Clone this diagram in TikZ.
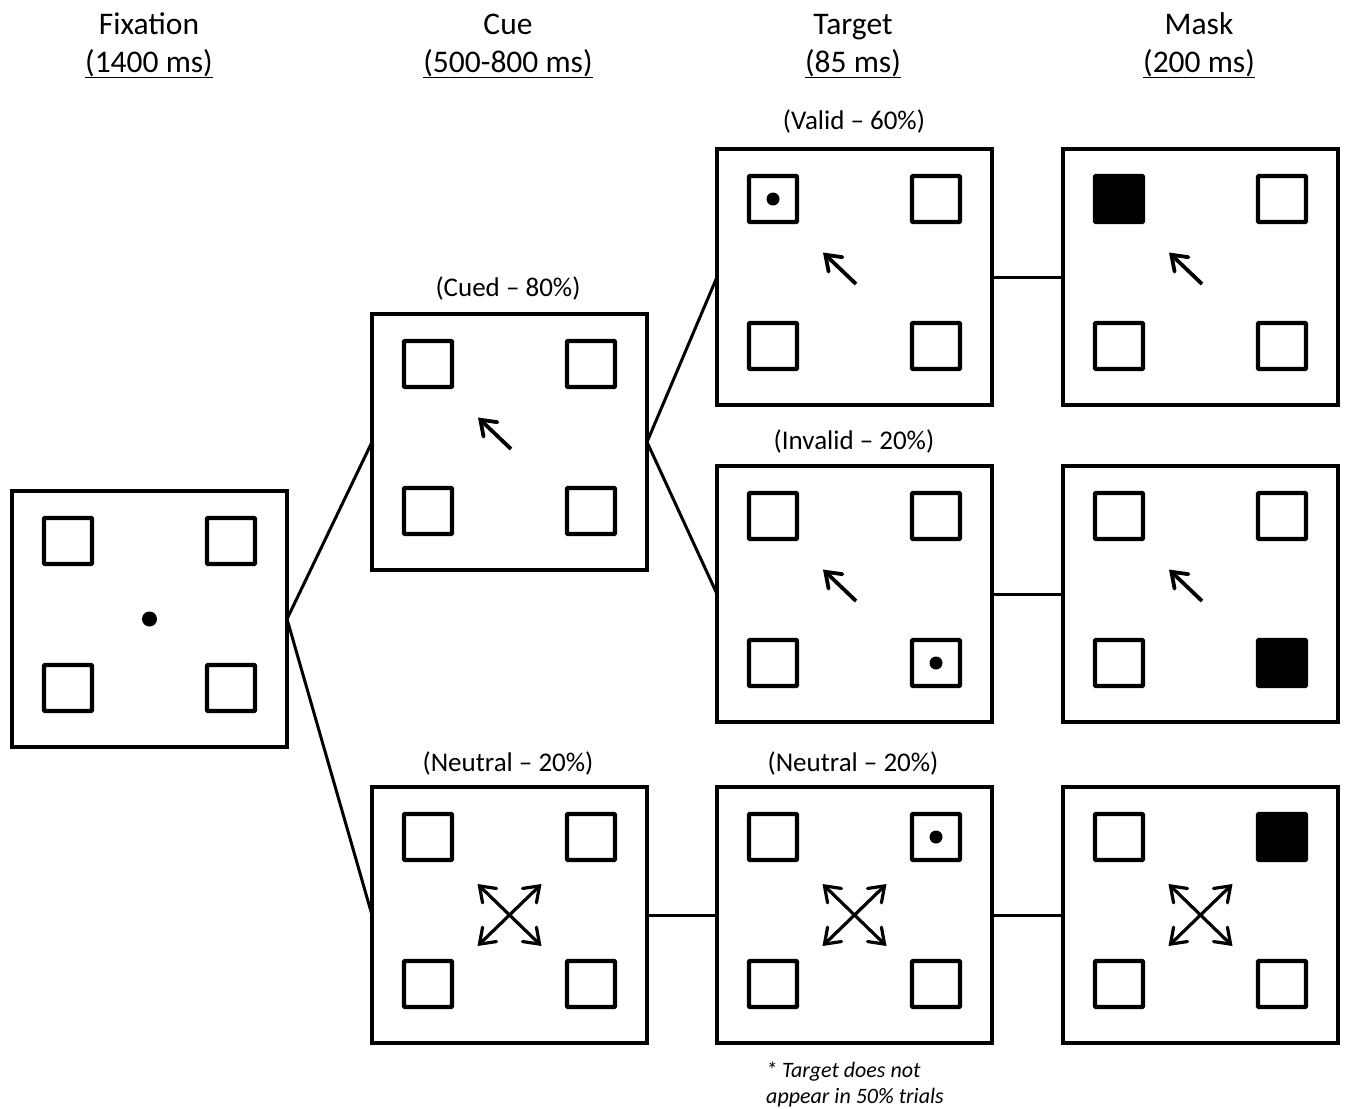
\documentclass[tikz,border=0pt]{standalone}
\usepackage{fontspec}
\setmainfont{Carlito}
\usetikzlibrary{arrows.meta,calc}

% one display screen: outer frame with four placeholder boxes
\newcommand\panel[2]{%
  \node[frame] (#1) at (#2) {};
  \foreach \p/\dx/\dy in {tl/-81.5/-78, tr/81.5/-78, bl/-81.5/69, br/81.5/69}
    \node[slot] (#1-\p) at ($(#1.center)+(\dx,\dy)$) {};
}
% directional cue pointing to the upper-left box
\newcommand\leftcue[1]{%
  \draw[cuearrow] ($(#1.center)+(1.5,7)$) -- ($(#1.center)+(-31.5,-24.5)$);
}
% neutral cue: two crossed double-headed arrows
\newcommand\neutralcue[1]{%
  \draw[crossarrow] ($(#1.center)+(-32,-31)$) -- ($(#1.center)+(32,31)$);
  \draw[crossarrow] ($(#1.center)+(32,-31)$) -- ($(#1.center)+(-32,31)$);
}
% filled mask in a given box
\newcommand\maskfill[1]{%
  \fill[rounded corners=1pt] (#1.south west) rectangle (#1.north east);
}

\begin{document}
\begin{tikzpicture}[x=1pt,y=-1pt,
  frame/.style={draw,line width=4.2pt,minimum width=275pt,minimum height=256pt,inner sep=0pt,outer sep=0pt},
  slot/.style={draw,line width=4.4pt,rounded corners=1pt,minimum width=48pt,minimum height=46pt,inner sep=0pt,outer sep=0pt},
  barb/.tip={Straight Barb[length=14pt,width=20pt,line cap=round]},
  cuearrow/.style={line width=3.8pt,-barb},
  crossarrow/.style={line width=3.2pt,barb-barb},
  link/.style={line width=3pt},
  head/.style={font=\fontsize{31.5}{36}\selectfont,inner sep=0pt,anchor=base},
  lab/.style={font=\fontsize{27}{30}\selectfont,inner sep=0pt,anchor=base},
  note/.style={font=\fontsize{22}{26}\selectfont\itshape,inner sep=0pt,align=left}]
\useasboundingbox (0,0) rectangle (1346,1108);

% column headings
\node[head] (hfix) at (149,34.5) {Fixation};
\node[head] (hfixt) at (149,72) {(1400 ms)};
\node[head] (hcue) at (508,34.5) {Cue};
\node[head] (hcuet) at (508,72) {(500-800 ms)};
\node[head] (htar) at (853,34.5) {Target};
\node[head] (htart) at (853,72) {(85 ms)};
\node[head] (hmask) at (1199,34.5) {Mask};
\node[head] (hmaskt) at (1199,72) {(200 ms)};
\foreach \n in {hfixt,hcuet,htart,hmaskt}
  \draw[line width=1.8pt] ([yshift=-5.5pt]\n.base west) -- ([yshift=-5.5pt]\n.base east);

% screens
\panel{fix}{149.5,619}
\panel{cue}{509.5,442}
\panel{cuen}{509.5,915}
\panel{tv}{854.5,277}
\panel{ti}{854.5,594}
\panel{tn}{854.5,915}
\panel{mv}{1200.5,277}
\panel{mi}{1200.5,594}
\panel{mn}{1200.5,915}

% condition labels
\node[lab] (lcue) at (508,296) {(Cued -- 80\%)};
\node[lab] (lcuen) at (508,771) {(Neutral -- 20\%)};
\node[lab] (ltv) at (854,129) {(Valid -- 60\%)};
\node[lab] (lti) at (854,449) {(Invalid -- 20\%)};
\node[lab] (ltn) at (853,771) {(Neutral -- 20\%)};

% fixation dot and targets
\fill (fix.center) circle (7.5pt);
\fill (tv-tl.center) circle (6.5pt);
\fill (ti-br.center) circle (6.5pt);
\fill (tn-tr.center) circle (6.5pt);

% masks
\maskfill{mv-tl}
\maskfill{mi-br}
\maskfill{mn-tr}

% cues
\leftcue{cue}
\leftcue{tv}
\leftcue{ti}
\leftcue{mv}
\leftcue{mi}
\neutralcue{cuen}
\neutralcue{tn}
\neutralcue{mn}

% trial-sequence connectors
\draw[link] (fix.east) -- (cue.west);
\draw[link] (fix.east) -- (cuen.west);
\draw[link] (cue.east) -- (tv.west);
\draw[link] (cue.east) -- (ti.west);
\draw[link] (cuen.east) -- (tn.west);
\draw[link] (tv.east) -- (mv.west);
\draw[link] (ti.east) -- (mi.west);
\draw[link] (tn.east) -- (mn.west);

% footnote
\node[note,anchor=north west] (fn) at (766,1062) {* Target does not\\appear in 50\% trials};
\end{tikzpicture}
\end{document}
